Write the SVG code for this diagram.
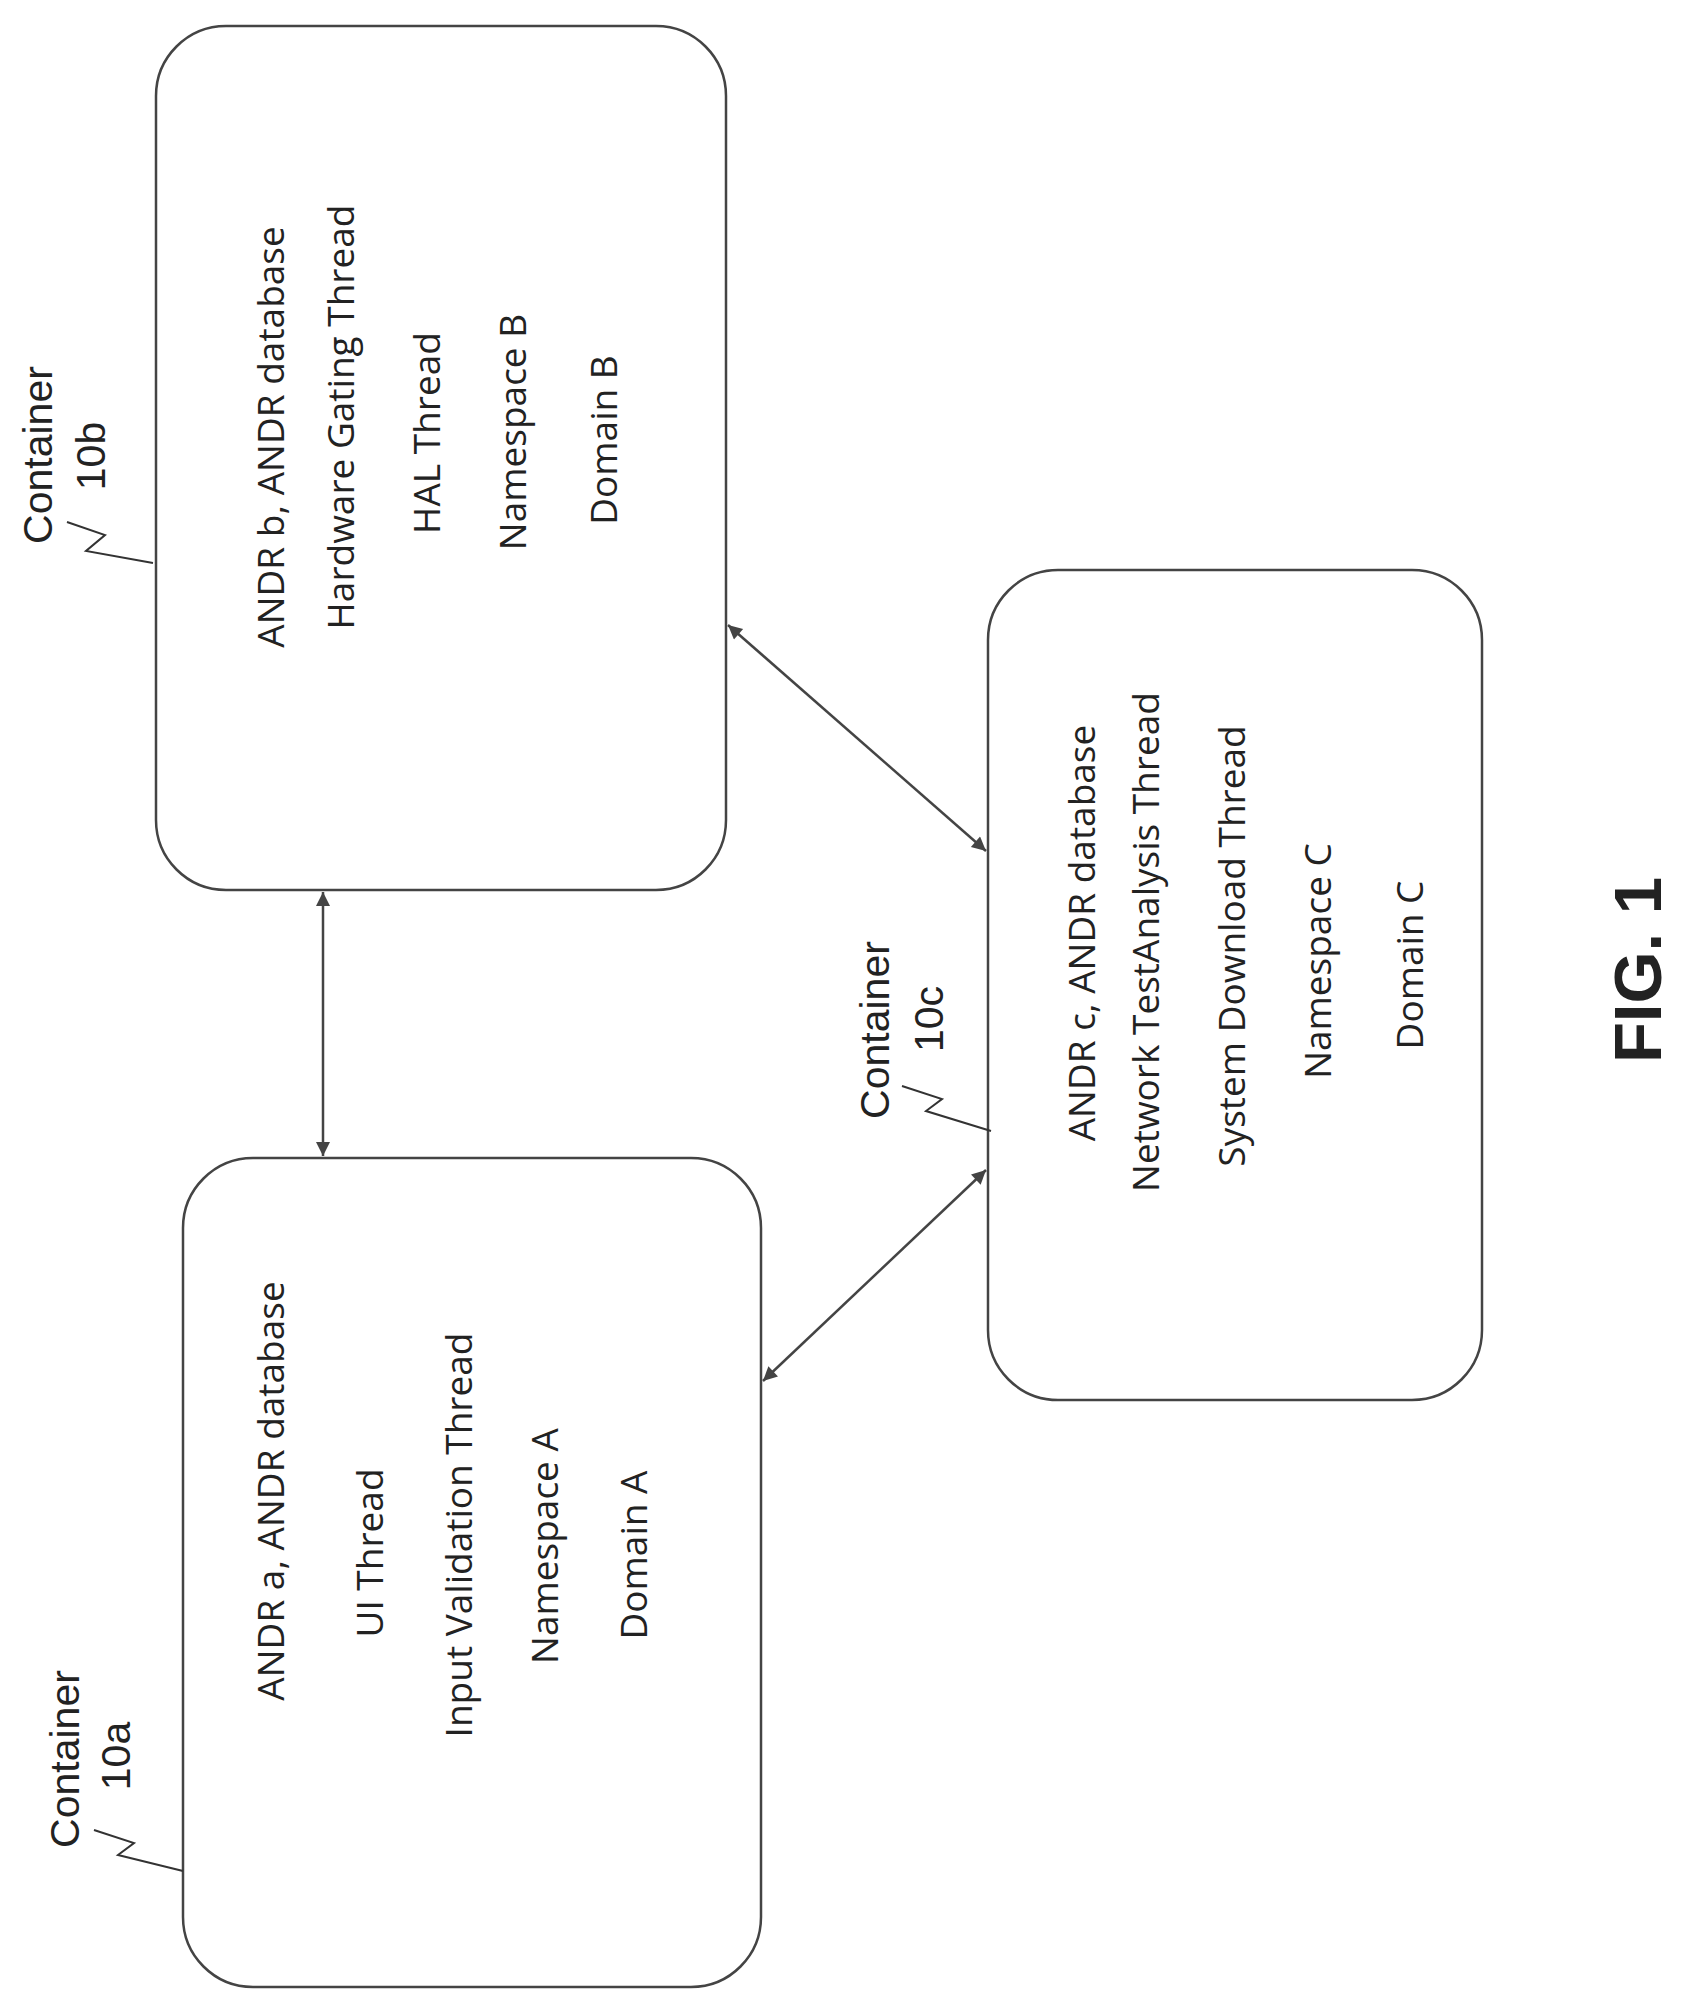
<svg xmlns="http://www.w3.org/2000/svg" width="1686" height="2009" viewBox="0 0 1686 2009">
<style>
.box{fill:#fff;stroke:#444;stroke-width:2.5}
.t{font-family:"Open Sans","Liberation Sans",sans-serif;font-size:37px;fill:#222;text-anchor:middle;dominant-baseline:central}
.lbl{font-family:"Liberation Sans",Arial,sans-serif;font-size:41px;fill:#222;text-anchor:middle;dominant-baseline:central}
.sq{fill:none;stroke:#333;stroke-width:2}
.c{stroke:#444;stroke-width:2.5;fill:none;marker-start:url(#a);marker-end:url(#a)}
.fig{font-family:"Liberation Sans",Arial,sans-serif;font-size:67px;font-weight:bold;fill:#222;text-anchor:middle;dominant-baseline:central}
</style>
<defs>
<marker id="a" viewBox="0 0 10 10" refX="10" refY="5" markerWidth="16" markerHeight="14" orient="auto-start-reverse" markerUnits="userSpaceOnUse">
<path d="M0,0 L10,5 L0,10 Z" fill="#444"/>
</marker>
</defs>
<rect width="1686" height="2009" fill="#fff"/>
<g id="connectors">
<line class="c" x1="323" y1="1156" x2="323" y2="892"/>
<line class="c" x1="986" y1="851" x2="728" y2="625"/>
<line class="c" x1="763" y1="1381" x2="986" y2="1170"/>
</g>
<g id="nodeB">
<rect class="box" x="156" y="26" width="570" height="864" rx="70" ry="70"/>
<text class="t" transform="translate(269,437) rotate(-90)">ANDR b, ANDR database</text>
<text class="t" transform="translate(339,417) rotate(-90)">Hardware Gating Thread</text>
<text class="t" transform="translate(425,433) rotate(-90)">HAL Thread</text>
<text class="t" transform="translate(511,432) rotate(-90)">Namespace B</text>
<text class="t" transform="translate(602,440) rotate(-90)">Domain B</text>
</g>
<g id="nodeC">
<rect class="box" x="988" y="570" width="494" height="830" rx="70" ry="70"/>
<text class="t" transform="translate(1080,933) rotate(-90)">ANDR c, ANDR database</text>
<text class="t" transform="translate(1144,942) rotate(-90)">Network TestAnalysis Thread</text>
<text class="t" transform="translate(1230,946) rotate(-90)">System Download Thread</text>
<text class="t" transform="translate(1316,961) rotate(-90)">Namespace C</text>
<text class="t" transform="translate(1408,965) rotate(-90)">Domain C</text>
</g>
<g id="nodeA">
<rect class="box" x="183" y="1158" width="578" height="829" rx="70" ry="70"/>
<text class="t" transform="translate(269,1491) rotate(-90)">ANDR a, ANDR database</text>
<text class="t" transform="translate(368,1553) rotate(-90)">UI Thread</text>
<text class="t" transform="translate(457,1535) rotate(-90)">Input Validation Thread</text>
<text class="t" transform="translate(543,1546) rotate(-90)">Namespace A</text>
<text class="t" transform="translate(632,1555) rotate(-90)">Domain A</text>
</g>
<g id="label10b">
<text class="lbl" transform="translate(38,455) rotate(-90)">Container</text>
<text class="lbl" transform="translate(91,456) rotate(-90)">10b</text>
<path class="sq" d="M67,522 L105,535 L86,551 L153,563"/>
</g>
<g id="label10c">
<text class="lbl" transform="translate(875,1030) rotate(-90)">Container</text>
<text class="lbl" transform="translate(929,1019) rotate(-90)">10c</text>
<path class="sq" d="M902,1086 L942,1099 L926,1111 L991,1131"/>
</g>
<g id="label10a">
<text class="lbl" transform="translate(65,1759) rotate(-90)">Container</text>
<text class="lbl" transform="translate(116,1756) rotate(-90)">10a</text>
<path class="sq" d="M94,1830 L134,1843 L118,1855 L183,1871"/>
</g>
<text class="fig" transform="translate(1637,970) rotate(-90)">FIG. 1</text>
</svg>
